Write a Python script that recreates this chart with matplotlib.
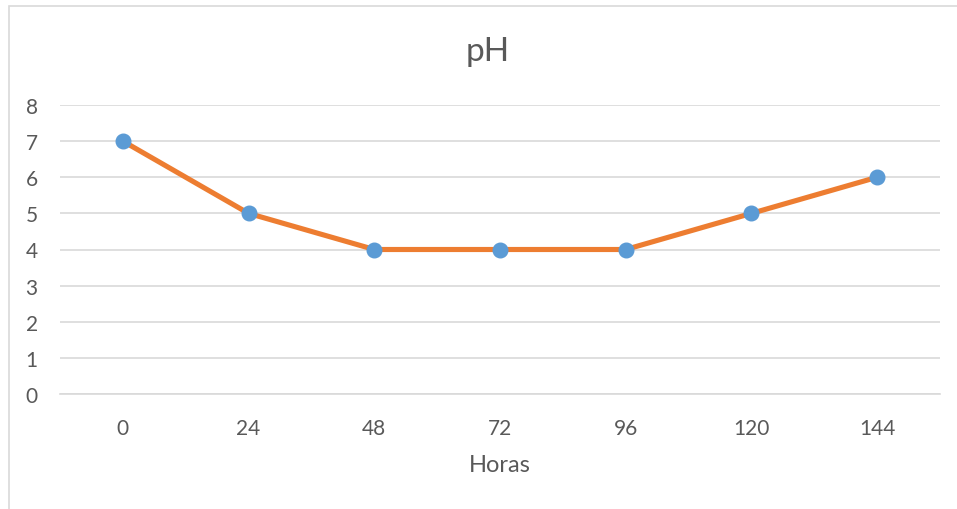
import matplotlib
matplotlib.use('Agg')
import matplotlib.pyplot as plt
import matplotlib.patches as mpatches

HORAS = ["0", "24", "48", "72", "96", "120", "144"]
PH = [7, 5, 4, 4, 4, 5, 6]

W, H = 957, 510
TXT = "#595959"
GRID = "#D9D9D9"
LARANJA = "#ED7D31"
AZUL = "#5B9BD5"

plt.rcParams['font.family'] = ['Lato', 'DejaVu Sans']

fig = plt.figure(figsize=(W / 100, H / 100), dpi=100)
fig.patch.set_facecolor('white')

# moldura do gráfico (só esquerda/topo visíveis)
fig.patches.append(mpatches.Rectangle((8.5 / W, -0.05), 1.2, 1.05 - 6.5 / H,
                                      transform=fig.transFigure, fill=False,
                                      edgecolor=GRID, linewidth=1.2))

AX_T, AX_B = 106, 395
ax = fig.add_axes([60 / W, 1 - AX_B / H, 880 / W, (AX_B - AX_T) / H])
x = list(range(len(HORAS)))
ax.plot(x, PH, color=LARANJA, linewidth=3.7, zorder=3, solid_capstyle='round')
ax.plot(x, PH, linestyle='none', marker='o', markersize=10.5,
        markerfacecolor=AZUL, markeredgecolor=AZUL, zorder=4)

ax.set_xlim(-0.5, len(HORAS) - 0.5)
ax.set_ylim(0, 8)
ax.set_yticks(range(0, 9))
ax.set_xticks(x)
ax.set_xticklabels(HORAS)
ax.grid(axis='y', color=GRID, linewidth=1.2)
ax.set_axisbelow(True)
for s in ['top', 'right', 'left']:
    ax.spines[s].set_visible(False)
ax.spines['bottom'].set_color(GRID)
ax.spines['bottom'].set_linewidth(1.2)
ax.tick_params(length=0, labelsize=15, colors=TXT)
ax.tick_params(axis='x', pad=17)
ax.tick_params(axis='y', pad=16)

ax.set_xlabel("Horas", fontsize=17, color=TXT, va='center')
ax.xaxis.set_label_coords(0.5, -(466 - AX_B) / (AX_B - AX_T))
fig.text(488 / W, 1 - 52 / H, "pH", ha='center', va='center', fontsize=24, color=TXT)

fig.savefig('out.png', dpi=100)
